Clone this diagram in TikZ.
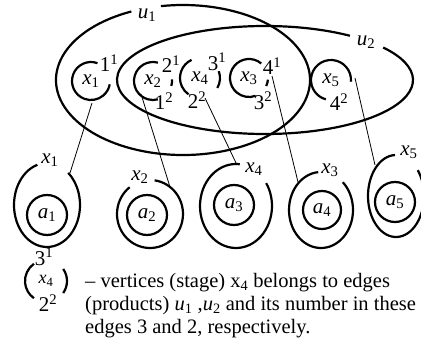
\RequirePackage{fix-cm}
\documentclass[tikz,border=0pt]{standalone}
\usepackage{fontspec}
\setmainfont{Liberation Serif}
\newcommand\lab[2]{$\mathit{#1}_{\mathrm{#2}}$}
\newcommand\num[2]{$\mathrm{#1}^{\mathrm{#2}}$}

\begin{document}
\begin{tikzpicture}[x=1pt, y=1pt,
  ring/.style={line width=2.2pt},
  wire/.style={line width=0.8pt},
  every node/.style={inner sep=0pt, font=\fontsize{21}{24}\selectfont}]
  \useasboundingbox (0,0) rectangle (421,-342);
  % edges u1, u2
  \coordinate (u1c) at (183,-80);
  \coordinate (u2c) at (265,-80);
  \draw[ring] (u1c) ++(114:127 and 75) arc[start angle=114, end angle=460, x radius=127, y radius=75];
  \draw[ring] (u2c) ++(55:148 and 54) arc[start angle=55, end angle=397, x radius=148, y radius=54];
  \node (u1) at (147,-15) {\lab{u}{1}};
  \node (u2) at (366,-42) {\lab{u}{2}};
  % vertices
  \node (x1) at (91,-81) {\lab{x}{1}};
  \draw[ring] (x1) ++(70:19) arc[start angle=70, end angle=350, radius=19];
  \node (x1n1) at (109,-63) {\num{1}{1}};
  \node (x2) at (153,-81) {\lab{x}{2}};
  \draw[ring] (x2) ++(75:19) arc[start angle=75, end angle=285, radius=19];
  \draw[ring] (x2) ++(-15:19) arc[start angle=-15, end angle=5, radius=19];
  \node (x2n1) at (171,-64) {\num{2}{1}};
  \node (x2n2) at (164,-101) {\num{1}{2}};
  \node (x4) at (200,-78) {\lab{x}{4}};
  \draw[ring] (x4) ++(115:20) arc[start angle=115, end angle=235, radius=20];
  \draw[ring] (x4) ++(-30:20) arc[start angle=-30, end angle=20, radius=20];
  \node (x4n1) at (217,-62) {\num{3}{1}};
  \node (x4n2) at (197,-100) {\num{2}{2}};
  \node (x3) at (249,-78) {\lab{x}{3}};
  \draw[ring] (x3) ++(50:19) arc[start angle=50, end angle=290, radius=19];
  \draw[ring] (x3) ++(-25:19) arc[start angle=-25, end angle=-5, radius=19];
  \node (x3n1) at (272,-66) {\num{4}{1}};
  \node (x3n2) at (263,-101) {\num{3}{2}};
  \node (x5) at (331,-80) {\lab{x}{5}};
  \draw[ring] (x5) ++(-5:20) arc[start angle=-5, end angle=255, radius=20];
  \node (x5n2) at (339,-102) {\num{4}{2}};
  % stages
  \node (a1) at (47,-215) {\lab{a}{1}};
  \draw[ring] (a1) circle[radius=20];
  \draw[ring] (47,-205) ++(107:33 and 42) arc[start angle=107, end angle=410, x radius=33, y radius=42];
  \node (a1x) at (50,-160) {\lab{x}{1}};
  \node (a2) at (147,-215) {\lab{a}{2}};
  \draw[ring] (a2) circle[radius=20];
  \draw[ring] (150,-214) ++(128:33 and 34) arc[start angle=128, end angle=442, x radius=33, y radius=34];
  \node (a2x) at (140,-177) {\lab{x}{2}};
  \node (a3) at (234,-205) {\lab{a}{3}};
  \draw[ring] (a3) circle[radius=20];
  \draw[ring] (236,-206) ++(84:36 and 42) arc[start angle=84, end angle=393, x radius=36, y radius=42];
  \node (a3x) at (254,-169) {\lab{x}{4}};
  \node (a4) at (322,-210) {\lab{a}{4}};
  \draw[ring] (a4) circle[radius=19];
  \draw[ring] (321,-210) ++(95:32 and 38) arc[start angle=95, end angle=407, x radius=32, y radius=38];
  \node (a4x) at (330,-170) {\lab{x}{3}};
  \node (a5) at (395,-202) {\lab{a}{5}};
  \draw[ring] (a5) circle[radius=20];
  \draw[ring] (396,-196) ++(92:28 and 41) arc[start angle=92, end angle=399, x radius=28, y radius=41];
  \node (a5x) at (409,-152) {\lab{x}{5}};
  % links
  \coordinate (x1o) at (92,-103);  \coordinate (a1i) at (70,-173);
  \coordinate (x2o) at (141,-94);  \coordinate (a2i) at (170,-187);
  \coordinate (x4o) at (205,-98);  \coordinate (a3i) at (237,-165);
  \coordinate (x3o) at (272,-76);  \coordinate (a4i) at (298,-182);
  \coordinate (x5o) at (355,-78);  \coordinate (a5i) at (375,-165);
  \draw[wire] (x1o) -- (a1i);
  \draw[wire] (x2o) -- (a2i);
  \draw[wire] (x4o) -- (a3i);
  \draw[wire] (x3o) -- (a4i);
  \draw[wire] (x5o) -- (a5i);
  % legend
  \node (lx) at (46,-281) {\fontsize{18}{20}\selectfont\lab{x}{4}};
  \draw[ring] (lx) ++(125:21) arc[start angle=125, end angle=235, radius=21];
  \draw[ring] (lx) ++(-35:21) arc[start angle=-35, end angle=35, radius=21];
  \node (ln1) at (44,-257) {\num{3}{1}};
  \node (ln2) at (48,-303) {\num{2}{2}};
  \node[anchor=west, align=left, font=\fontsize{20.5}{23}\selectfont] (note) at (85,-306)
    {-- vertices (stage) x\textsubscript{4} belongs to edges\\
     (products) \lab{u}{1} ,\lab{u}{2} and its number in these\\
     edges 3 and 2, respectively.};
\end{tikzpicture}
\end{document}
